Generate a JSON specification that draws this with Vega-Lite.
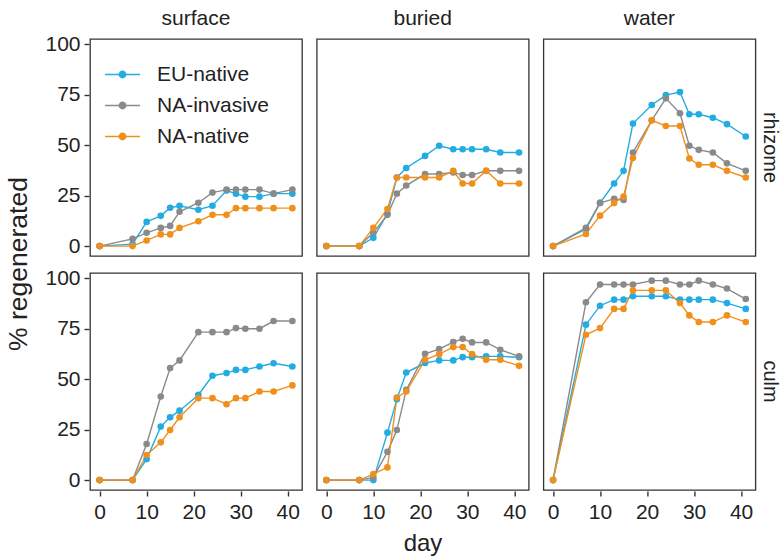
{
  "$schema": "https://vega.github.io/schema/vega-lite/v6.json",
  "padding": {"left": 5, "top": 8, "right": 0, "bottom": 0},
  "background": "white",
  "data": {
    "values": [
      {"loc":"surface","part":"rhizome","origin":"EU-native","day":0,"pct":0},
      {"loc":"surface","part":"rhizome","origin":"EU-native","day":7,"pct":1},
      {"loc":"surface","part":"rhizome","origin":"EU-native","day":10,"pct":12},
      {"loc":"surface","part":"rhizome","origin":"EU-native","day":13,"pct":15},
      {"loc":"surface","part":"rhizome","origin":"EU-native","day":15,"pct":19},
      {"loc":"surface","part":"rhizome","origin":"EU-native","day":17,"pct":20},
      {"loc":"surface","part":"rhizome","origin":"EU-native","day":21,"pct":18},
      {"loc":"surface","part":"rhizome","origin":"EU-native","day":24,"pct":20},
      {"loc":"surface","part":"rhizome","origin":"EU-native","day":27,"pct":27.5},
      {"loc":"surface","part":"rhizome","origin":"EU-native","day":29,"pct":26},
      {"loc":"surface","part":"rhizome","origin":"EU-native","day":31,"pct":24.5},
      {"loc":"surface","part":"rhizome","origin":"EU-native","day":34,"pct":24.5},
      {"loc":"surface","part":"rhizome","origin":"EU-native","day":37,"pct":26},
      {"loc":"surface","part":"rhizome","origin":"EU-native","day":41,"pct":26},
      {"loc":"surface","part":"rhizome","origin":"NA-invasive","day":0,"pct":0},
      {"loc":"surface","part":"rhizome","origin":"NA-invasive","day":7,"pct":3.6},
      {"loc":"surface","part":"rhizome","origin":"NA-invasive","day":10,"pct":6.6},
      {"loc":"surface","part":"rhizome","origin":"NA-invasive","day":13,"pct":9},
      {"loc":"surface","part":"rhizome","origin":"NA-invasive","day":15,"pct":10},
      {"loc":"surface","part":"rhizome","origin":"NA-invasive","day":17,"pct":17},
      {"loc":"surface","part":"rhizome","origin":"NA-invasive","day":21,"pct":21.5},
      {"loc":"surface","part":"rhizome","origin":"NA-invasive","day":24,"pct":26.5},
      {"loc":"surface","part":"rhizome","origin":"NA-invasive","day":27,"pct":28},
      {"loc":"surface","part":"rhizome","origin":"NA-invasive","day":29,"pct":28},
      {"loc":"surface","part":"rhizome","origin":"NA-invasive","day":31,"pct":28},
      {"loc":"surface","part":"rhizome","origin":"NA-invasive","day":34,"pct":28},
      {"loc":"surface","part":"rhizome","origin":"NA-invasive","day":37,"pct":26},
      {"loc":"surface","part":"rhizome","origin":"NA-invasive","day":41,"pct":28},
      {"loc":"surface","part":"rhizome","origin":"NA-native","day":0,"pct":0},
      {"loc":"surface","part":"rhizome","origin":"NA-native","day":7,"pct":0},
      {"loc":"surface","part":"rhizome","origin":"NA-native","day":10,"pct":2.8},
      {"loc":"surface","part":"rhizome","origin":"NA-native","day":13,"pct":5.8},
      {"loc":"surface","part":"rhizome","origin":"NA-native","day":15,"pct":5.8},
      {"loc":"surface","part":"rhizome","origin":"NA-native","day":17,"pct":9},
      {"loc":"surface","part":"rhizome","origin":"NA-native","day":21,"pct":12.3},
      {"loc":"surface","part":"rhizome","origin":"NA-native","day":24,"pct":15.5},
      {"loc":"surface","part":"rhizome","origin":"NA-native","day":27,"pct":15.5},
      {"loc":"surface","part":"rhizome","origin":"NA-native","day":29,"pct":18.8},
      {"loc":"surface","part":"rhizome","origin":"NA-native","day":31,"pct":18.8},
      {"loc":"surface","part":"rhizome","origin":"NA-native","day":34,"pct":18.8},
      {"loc":"surface","part":"rhizome","origin":"NA-native","day":37,"pct":18.8},
      {"loc":"surface","part":"rhizome","origin":"NA-native","day":41,"pct":18.8},

      {"loc":"buried","part":"rhizome","origin":"EU-native","day":0,"pct":0},
      {"loc":"buried","part":"rhizome","origin":"EU-native","day":7,"pct":0},
      {"loc":"buried","part":"rhizome","origin":"EU-native","day":10,"pct":4.1},
      {"loc":"buried","part":"rhizome","origin":"EU-native","day":13,"pct":16},
      {"loc":"buried","part":"rhizome","origin":"EU-native","day":15,"pct":34},
      {"loc":"buried","part":"rhizome","origin":"EU-native","day":17,"pct":38.7},
      {"loc":"buried","part":"rhizome","origin":"EU-native","day":21,"pct":44.7},
      {"loc":"buried","part":"rhizome","origin":"EU-native","day":24,"pct":49.7},
      {"loc":"buried","part":"rhizome","origin":"EU-native","day":27,"pct":48},
      {"loc":"buried","part":"rhizome","origin":"EU-native","day":29,"pct":48},
      {"loc":"buried","part":"rhizome","origin":"EU-native","day":31,"pct":48},
      {"loc":"buried","part":"rhizome","origin":"EU-native","day":34,"pct":48},
      {"loc":"buried","part":"rhizome","origin":"EU-native","day":37,"pct":46.4},
      {"loc":"buried","part":"rhizome","origin":"EU-native","day":41,"pct":46.4},
      {"loc":"buried","part":"rhizome","origin":"NA-invasive","day":0,"pct":0},
      {"loc":"buried","part":"rhizome","origin":"NA-invasive","day":7,"pct":0},
      {"loc":"buried","part":"rhizome","origin":"NA-invasive","day":10,"pct":6.6},
      {"loc":"buried","part":"rhizome","origin":"NA-invasive","day":13,"pct":15.5},
      {"loc":"buried","part":"rhizome","origin":"NA-invasive","day":15,"pct":26},
      {"loc":"buried","part":"rhizome","origin":"NA-invasive","day":17,"pct":30},
      {"loc":"buried","part":"rhizome","origin":"NA-invasive","day":21,"pct":35.7},
      {"loc":"buried","part":"rhizome","origin":"NA-invasive","day":24,"pct":35.7},
      {"loc":"buried","part":"rhizome","origin":"NA-invasive","day":27,"pct":36.5},
      {"loc":"buried","part":"rhizome","origin":"NA-invasive","day":29,"pct":35.2},
      {"loc":"buried","part":"rhizome","origin":"NA-invasive","day":31,"pct":35.2},
      {"loc":"buried","part":"rhizome","origin":"NA-invasive","day":34,"pct":37.3},
      {"loc":"buried","part":"rhizome","origin":"NA-invasive","day":37,"pct":37.3},
      {"loc":"buried","part":"rhizome","origin":"NA-invasive","day":41,"pct":37.3},
      {"loc":"buried","part":"rhizome","origin":"NA-native","day":0,"pct":0},
      {"loc":"buried","part":"rhizome","origin":"NA-native","day":7,"pct":0},
      {"loc":"buried","part":"rhizome","origin":"NA-native","day":10,"pct":9},
      {"loc":"buried","part":"rhizome","origin":"NA-native","day":13,"pct":18.4},
      {"loc":"buried","part":"rhizome","origin":"NA-native","day":15,"pct":34},
      {"loc":"buried","part":"rhizome","origin":"NA-native","day":17,"pct":34},
      {"loc":"buried","part":"rhizome","origin":"NA-native","day":21,"pct":34},
      {"loc":"buried","part":"rhizome","origin":"NA-native","day":24,"pct":34},
      {"loc":"buried","part":"rhizome","origin":"NA-native","day":27,"pct":37.3},
      {"loc":"buried","part":"rhizome","origin":"NA-native","day":29,"pct":31},
      {"loc":"buried","part":"rhizome","origin":"NA-native","day":31,"pct":31},
      {"loc":"buried","part":"rhizome","origin":"NA-native","day":34,"pct":37.3},
      {"loc":"buried","part":"rhizome","origin":"NA-native","day":37,"pct":31},
      {"loc":"buried","part":"rhizome","origin":"NA-native","day":41,"pct":31},

      {"loc":"water","part":"rhizome","origin":"EU-native","day":0,"pct":0},
      {"loc":"water","part":"rhizome","origin":"EU-native","day":7,"pct":8.5},
      {"loc":"water","part":"rhizome","origin":"EU-native","day":10,"pct":21.4},
      {"loc":"water","part":"rhizome","origin":"EU-native","day":13,"pct":31},
      {"loc":"water","part":"rhizome","origin":"EU-native","day":15,"pct":37.3},
      {"loc":"water","part":"rhizome","origin":"EU-native","day":17,"pct":60.7},
      {"loc":"water","part":"rhizome","origin":"EU-native","day":21,"pct":69.9},
      {"loc":"water","part":"rhizome","origin":"EU-native","day":24,"pct":74.8},
      {"loc":"water","part":"rhizome","origin":"EU-native","day":27,"pct":76.3},
      {"loc":"water","part":"rhizome","origin":"EU-native","day":29,"pct":65.3},
      {"loc":"water","part":"rhizome","origin":"EU-native","day":31,"pct":65.3},
      {"loc":"water","part":"rhizome","origin":"EU-native","day":34,"pct":63.6},
      {"loc":"water","part":"rhizome","origin":"EU-native","day":37,"pct":60.4},
      {"loc":"water","part":"rhizome","origin":"EU-native","day":41,"pct":54.3},
      {"loc":"water","part":"rhizome","origin":"NA-invasive","day":0,"pct":0},
      {"loc":"water","part":"rhizome","origin":"NA-invasive","day":7,"pct":9},
      {"loc":"water","part":"rhizome","origin":"NA-invasive","day":10,"pct":21.4},
      {"loc":"water","part":"rhizome","origin":"NA-invasive","day":13,"pct":23.4},
      {"loc":"water","part":"rhizome","origin":"NA-invasive","day":15,"pct":22.9},
      {"loc":"water","part":"rhizome","origin":"NA-invasive","day":17,"pct":46.4},
      {"loc":"water","part":"rhizome","origin":"NA-invasive","day":21,"pct":62.3},
      {"loc":"water","part":"rhizome","origin":"NA-invasive","day":24,"pct":73.2},
      {"loc":"water","part":"rhizome","origin":"NA-invasive","day":27,"pct":65.8},
      {"loc":"water","part":"rhizome","origin":"NA-invasive","day":29,"pct":49.7},
      {"loc":"water","part":"rhizome","origin":"NA-invasive","day":31,"pct":47.7},
      {"loc":"water","part":"rhizome","origin":"NA-invasive","day":34,"pct":46.4},
      {"loc":"water","part":"rhizome","origin":"NA-invasive","day":37,"pct":41},
      {"loc":"water","part":"rhizome","origin":"NA-invasive","day":41,"pct":37.3},
      {"loc":"water","part":"rhizome","origin":"NA-native","day":0,"pct":0},
      {"loc":"water","part":"rhizome","origin":"NA-native","day":7,"pct":6},
      {"loc":"water","part":"rhizome","origin":"NA-native","day":10,"pct":15.1},
      {"loc":"water","part":"rhizome","origin":"NA-native","day":13,"pct":21.4},
      {"loc":"water","part":"rhizome","origin":"NA-native","day":15,"pct":24.5},
      {"loc":"water","part":"rhizome","origin":"NA-native","day":17,"pct":43.6},
      {"loc":"water","part":"rhizome","origin":"NA-native","day":21,"pct":62.3},
      {"loc":"water","part":"rhizome","origin":"NA-native","day":24,"pct":59.5},
      {"loc":"water","part":"rhizome","origin":"NA-native","day":27,"pct":59.5},
      {"loc":"water","part":"rhizome","origin":"NA-native","day":29,"pct":43.4},
      {"loc":"water","part":"rhizome","origin":"NA-native","day":31,"pct":40.3},
      {"loc":"water","part":"rhizome","origin":"NA-native","day":34,"pct":40.3},
      {"loc":"water","part":"rhizome","origin":"NA-native","day":37,"pct":37.3},
      {"loc":"water","part":"rhizome","origin":"NA-native","day":41,"pct":34},

      {"loc":"surface","part":"culm","origin":"EU-native","day":0,"pct":0},
      {"loc":"surface","part":"culm","origin":"EU-native","day":7,"pct":0},
      {"loc":"surface","part":"culm","origin":"EU-native","day":10,"pct":10.4},
      {"loc":"surface","part":"culm","origin":"EU-native","day":13,"pct":26.5},
      {"loc":"surface","part":"culm","origin":"EU-native","day":15,"pct":31.1},
      {"loc":"surface","part":"culm","origin":"EU-native","day":17,"pct":34.4},
      {"loc":"surface","part":"culm","origin":"EU-native","day":21,"pct":42.2},
      {"loc":"surface","part":"culm","origin":"EU-native","day":24,"pct":51.7},
      {"loc":"surface","part":"culm","origin":"EU-native","day":27,"pct":53},
      {"loc":"surface","part":"culm","origin":"EU-native","day":29,"pct":54.6},
      {"loc":"surface","part":"culm","origin":"EU-native","day":31,"pct":54.6},
      {"loc":"surface","part":"culm","origin":"EU-native","day":34,"pct":56.3},
      {"loc":"surface","part":"culm","origin":"EU-native","day":37,"pct":57.9},
      {"loc":"surface","part":"culm","origin":"EU-native","day":41,"pct":56.3},
      {"loc":"surface","part":"culm","origin":"NA-invasive","day":0,"pct":0},
      {"loc":"surface","part":"culm","origin":"NA-invasive","day":7,"pct":0},
      {"loc":"surface","part":"culm","origin":"NA-invasive","day":10,"pct":17.9},
      {"loc":"surface","part":"culm","origin":"NA-invasive","day":13,"pct":41.4},
      {"loc":"surface","part":"culm","origin":"NA-invasive","day":15,"pct":55.5},
      {"loc":"surface","part":"culm","origin":"NA-invasive","day":17,"pct":59.3},
      {"loc":"surface","part":"culm","origin":"NA-invasive","day":21,"pct":73.3},
      {"loc":"surface","part":"culm","origin":"NA-invasive","day":24,"pct":73.3},
      {"loc":"surface","part":"culm","origin":"NA-invasive","day":27,"pct":73.3},
      {"loc":"surface","part":"culm","origin":"NA-invasive","day":29,"pct":75.3},
      {"loc":"surface","part":"culm","origin":"NA-invasive","day":31,"pct":75},
      {"loc":"surface","part":"culm","origin":"NA-invasive","day":34,"pct":75},
      {"loc":"surface","part":"culm","origin":"NA-invasive","day":37,"pct":78.8},
      {"loc":"surface","part":"culm","origin":"NA-invasive","day":41,"pct":78.8},
      {"loc":"surface","part":"culm","origin":"NA-native","day":0,"pct":0},
      {"loc":"surface","part":"culm","origin":"NA-native","day":7,"pct":0},
      {"loc":"surface","part":"culm","origin":"NA-native","day":10,"pct":12.4},
      {"loc":"surface","part":"culm","origin":"NA-native","day":13,"pct":18.7},
      {"loc":"surface","part":"culm","origin":"NA-native","day":15,"pct":24.8},
      {"loc":"surface","part":"culm","origin":"NA-native","day":17,"pct":31.1},
      {"loc":"surface","part":"culm","origin":"NA-native","day":21,"pct":40.6},
      {"loc":"surface","part":"culm","origin":"NA-native","day":24,"pct":40.6},
      {"loc":"surface","part":"culm","origin":"NA-native","day":27,"pct":37.6},
      {"loc":"surface","part":"culm","origin":"NA-native","day":29,"pct":40.6},
      {"loc":"surface","part":"culm","origin":"NA-native","day":31,"pct":40.6},
      {"loc":"surface","part":"culm","origin":"NA-native","day":34,"pct":43.9},
      {"loc":"surface","part":"culm","origin":"NA-native","day":37,"pct":43.9},
      {"loc":"surface","part":"culm","origin":"NA-native","day":41,"pct":46.9},

      {"loc":"buried","part":"culm","origin":"EU-native","day":0,"pct":0},
      {"loc":"buried","part":"culm","origin":"EU-native","day":7,"pct":0},
      {"loc":"buried","part":"culm","origin":"EU-native","day":10,"pct":0},
      {"loc":"buried","part":"culm","origin":"EU-native","day":13,"pct":23.5},
      {"loc":"buried","part":"culm","origin":"EU-native","day":15,"pct":40},
      {"loc":"buried","part":"culm","origin":"EU-native","day":17,"pct":53.3},
      {"loc":"buried","part":"culm","origin":"EU-native","day":21,"pct":58},
      {"loc":"buried","part":"culm","origin":"EU-native","day":24,"pct":59.3},
      {"loc":"buried","part":"culm","origin":"EU-native","day":27,"pct":59.3},
      {"loc":"buried","part":"culm","origin":"EU-native","day":29,"pct":60.9},
      {"loc":"buried","part":"culm","origin":"EU-native","day":31,"pct":60.9},
      {"loc":"buried","part":"culm","origin":"EU-native","day":34,"pct":61.3},
      {"loc":"buried","part":"culm","origin":"EU-native","day":37,"pct":61.3},
      {"loc":"buried","part":"culm","origin":"EU-native","day":41,"pct":60.9},
      {"loc":"buried","part":"culm","origin":"NA-invasive","day":0,"pct":0},
      {"loc":"buried","part":"culm","origin":"NA-invasive","day":7,"pct":0},
      {"loc":"buried","part":"culm","origin":"NA-invasive","day":10,"pct":1.3},
      {"loc":"buried","part":"culm","origin":"NA-invasive","day":13,"pct":14},
      {"loc":"buried","part":"culm","origin":"NA-invasive","day":15,"pct":24.8},
      {"loc":"buried","part":"culm","origin":"NA-invasive","day":17,"pct":44.7},
      {"loc":"buried","part":"culm","origin":"NA-invasive","day":21,"pct":62.6},
      {"loc":"buried","part":"culm","origin":"NA-invasive","day":24,"pct":64.9},
      {"loc":"buried","part":"culm","origin":"NA-invasive","day":27,"pct":68.4},
      {"loc":"buried","part":"culm","origin":"NA-invasive","day":29,"pct":70},
      {"loc":"buried","part":"culm","origin":"NA-invasive","day":31,"pct":68.2},
      {"loc":"buried","part":"culm","origin":"NA-invasive","day":34,"pct":68.2},
      {"loc":"buried","part":"culm","origin":"NA-invasive","day":37,"pct":64.6},
      {"loc":"buried","part":"culm","origin":"NA-invasive","day":41,"pct":61.3},
      {"loc":"buried","part":"culm","origin":"NA-native","day":0,"pct":0},
      {"loc":"buried","part":"culm","origin":"NA-native","day":7,"pct":0},
      {"loc":"buried","part":"culm","origin":"NA-native","day":10,"pct":3},
      {"loc":"buried","part":"culm","origin":"NA-native","day":13,"pct":6.3},
      {"loc":"buried","part":"culm","origin":"NA-native","day":15,"pct":40.9},
      {"loc":"buried","part":"culm","origin":"NA-native","day":17,"pct":43.9},
      {"loc":"buried","part":"culm","origin":"NA-native","day":21,"pct":59.6},
      {"loc":"buried","part":"culm","origin":"NA-native","day":24,"pct":62.4},
      {"loc":"buried","part":"culm","origin":"NA-native","day":27,"pct":65.9},
      {"loc":"buried","part":"culm","origin":"NA-native","day":29,"pct":65.9},
      {"loc":"buried","part":"culm","origin":"NA-native","day":31,"pct":62.4},
      {"loc":"buried","part":"culm","origin":"NA-native","day":34,"pct":59.6},
      {"loc":"buried","part":"culm","origin":"NA-native","day":37,"pct":59.6},
      {"loc":"buried","part":"culm","origin":"NA-native","day":41,"pct":56.6},

      {"loc":"water","part":"culm","origin":"EU-native","day":0,"pct":0},
      {"loc":"water","part":"culm","origin":"EU-native","day":7,"pct":77},
      {"loc":"water","part":"culm","origin":"EU-native","day":10,"pct":86.4},
      {"loc":"water","part":"culm","origin":"EU-native","day":13,"pct":89.4},
      {"loc":"water","part":"culm","origin":"EU-native","day":15,"pct":89.4},
      {"loc":"water","part":"culm","origin":"EU-native","day":17,"pct":91.1},
      {"loc":"water","part":"culm","origin":"EU-native","day":21,"pct":91.1},
      {"loc":"water","part":"culm","origin":"EU-native","day":24,"pct":91.1},
      {"loc":"water","part":"culm","origin":"EU-native","day":27,"pct":89.4},
      {"loc":"water","part":"culm","origin":"EU-native","day":29,"pct":89.4},
      {"loc":"water","part":"culm","origin":"EU-native","day":31,"pct":89.4},
      {"loc":"water","part":"culm","origin":"EU-native","day":34,"pct":89.4},
      {"loc":"water","part":"culm","origin":"EU-native","day":37,"pct":87.7},
      {"loc":"water","part":"culm","origin":"EU-native","day":41,"pct":84.8},
      {"loc":"water","part":"culm","origin":"NA-invasive","day":0,"pct":0},
      {"loc":"water","part":"culm","origin":"NA-invasive","day":7,"pct":88.1},
      {"loc":"water","part":"culm","origin":"NA-invasive","day":10,"pct":96.9},
      {"loc":"water","part":"culm","origin":"NA-invasive","day":13,"pct":96.9},
      {"loc":"water","part":"culm","origin":"NA-invasive","day":15,"pct":96.9},
      {"loc":"water","part":"culm","origin":"NA-invasive","day":17,"pct":96.9},
      {"loc":"water","part":"culm","origin":"NA-invasive","day":21,"pct":98.8},
      {"loc":"water","part":"culm","origin":"NA-invasive","day":24,"pct":98.8},
      {"loc":"water","part":"culm","origin":"NA-invasive","day":27,"pct":96.9},
      {"loc":"water","part":"culm","origin":"NA-invasive","day":29,"pct":96.9},
      {"loc":"water","part":"culm","origin":"NA-invasive","day":31,"pct":98.8},
      {"loc":"water","part":"culm","origin":"NA-invasive","day":34,"pct":96.9},
      {"loc":"water","part":"culm","origin":"NA-invasive","day":37,"pct":94.9},
      {"loc":"water","part":"culm","origin":"NA-invasive","day":41,"pct":89.7},
      {"loc":"water","part":"culm","origin":"NA-native","day":0,"pct":0},
      {"loc":"water","part":"culm","origin":"NA-native","day":7,"pct":72},
      {"loc":"water","part":"culm","origin":"NA-native","day":10,"pct":75.3},
      {"loc":"water","part":"culm","origin":"NA-native","day":13,"pct":84.8},
      {"loc":"water","part":"culm","origin":"NA-native","day":15,"pct":84.8},
      {"loc":"water","part":"culm","origin":"NA-native","day":17,"pct":94},
      {"loc":"water","part":"culm","origin":"NA-native","day":21,"pct":94},
      {"loc":"water","part":"culm","origin":"NA-native","day":24,"pct":94},
      {"loc":"water","part":"culm","origin":"NA-native","day":27,"pct":87.7},
      {"loc":"water","part":"culm","origin":"NA-native","day":29,"pct":81.6},
      {"loc":"water","part":"culm","origin":"NA-native","day":31,"pct":78.3},
      {"loc":"water","part":"culm","origin":"NA-native","day":34,"pct":78.3},
      {"loc":"water","part":"culm","origin":"NA-native","day":37,"pct":81.6},
      {"loc":"water","part":"culm","origin":"NA-native","day":41,"pct":78.3}
    ]
  },
  "facet": {
    "row": {
      "field": "part",
      "sort": ["rhizome", "culm"],
      "header": {
        "title": "% regenerated",
        "titleOrient": "left",
        "titleFontSize": 26.5,
        "titleFontWeight": "normal",
        "titleColor": "#222",
        "titlePadding": 2,
        "labelOrient": "right",
        "labelAngle": 90,
        "labelFontSize": 20,
        "labelColor": "#222",
        "labelPadding": 3
      }
    },
    "column": {
      "field": "loc",
      "sort": ["surface", "buried", "water"],
      "header": {
        "title": "day",
        "titleOrient": "bottom",
        "titleFontSize": 24,
        "titleFontWeight": "normal",
        "titleColor": "#222",
        "titlePadding": 0,
        "labelOrient": "top",
        "labelFontSize": 21,
        "labelColor": "#222",
        "labelPadding": 9
      }
    }
  },
  "spacing": {"row": 15, "column": 12.7},
  "spec": {
    "width": 212,
    "height": 217,
    "encoding": {
      "x": {
        "field": "day",
        "type": "quantitative",
        "scale": {"domain": [-2.05, 43.05], "nice": false, "zero": false},
        "axis": {"title": null, "values": [0, 10, 20, 30, 40]}
      },
      "y": {
        "field": "pct",
        "type": "quantitative",
        "scale": {"domain": [-4.9, 102.6], "nice": false, "zero": false},
        "axis": {"title": null, "values": [0, 25, 50, 75, 100]}
      },
      "color": {
        "field": "origin",
        "type": "nominal",
        "scale": {
          "domain": ["EU-native", "NA-invasive", "NA-native"],
          "range": ["#22ACE2", "#8A8A8A", "#F0901C"]
        },
        "legend": {
          "title": null,
          "orient": "none",
          "legendX": 14,
          "legendY": 17,
          "symbolType": "M-1,0H1M-0.18,0A0.18,0.18 0 1,0 0.18,0A0.18,0.18 0 1,0 -0.18,0Z",
          "symbolSize": 1225,
          "symbolStrokeWidth": 1.5,
          "labelFontSize": 21,
          "labelColor": "#222",
          "labelOffset": 16,
          "rowPadding": 2,
          "encode": {
            "symbols": {
              "update": {
                "fill": {"scale": "color", "field": "value"},
                "stroke": {"scale": "color", "field": "value"},
                "opacity": {"value": 1}
              }
            }
          }
        }
      }
    },
    "layer": [
      {"mark": {"type": "line", "strokeWidth": 1.4}},
      {"mark": {"type": "circle", "size": 44, "opacity": 1}}
    ]
  },
  "config": {
    "font": "Liberation Sans",
    "view": {"stroke": "#333", "strokeWidth": 1.3},
    "axis": {
      "grid": false,
      "domain": false,
      "ticks": true,
      "tickColor": "#333",
      "tickWidth": 1.4,
      "tickSize": 5,
      "labelFontSize": 21,
      "labelColor": "#222",
      "labelPadding": 5
    },
    "axisY": {"labelPadding": 4}
  }
}
